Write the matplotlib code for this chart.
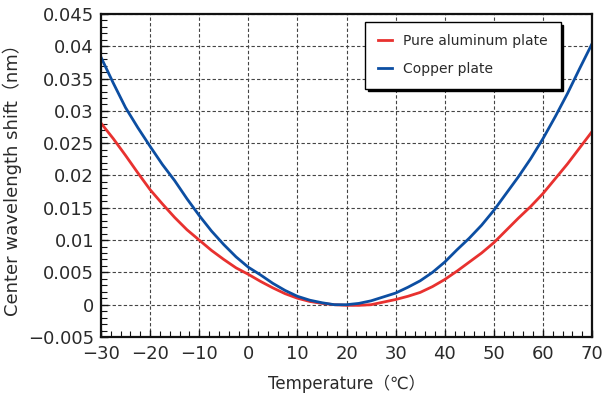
import numpy as np
import matplotlib
matplotlib.use('Agg')
import matplotlib.pyplot as plt
from matplotlib.ticker import MultipleLocator

plt.rcParams['font.family'] = ['DejaVu Sans', 'Noto Sans CJK JP']

# data (temperature in degC, shift in nm)
temp = [-30, -27.5, -25, -22.5, -20, -17.5, -15, -12.5, -10, -7.5, -5, -2.5,
        0, 2.5, 5, 7.5, 10, 12.5, 15, 17.5, 20, 22.5, 25, 27.5, 30, 32.5,
        35, 37.5, 40, 42.5, 45, 47.5, 50, 52.5, 55, 57.5, 60, 62.5, 65,
        67.5, 70]
aluminum = [0.0281, 0.0257, 0.0231, 0.0204, 0.0178, 0.0156, 0.0135, 0.0116,
            0.0100, 0.0084, 0.0070, 0.0057, 0.0047, 0.0036, 0.0026, 0.0017,
            0.0010, 0.0005, 0.0002, 0.0000, -0.0001, -0.0001, 0.0000, 0.0004,
            0.0008, 0.0013, 0.0019, 0.0028, 0.0039, 0.0052, 0.0066, 0.0080,
            0.0096, 0.0115, 0.0134, 0.0152, 0.0172, 0.0195, 0.0218, 0.0243,
            0.0268]
copper = [0.0383, 0.0343, 0.0305, 0.0274, 0.0245, 0.0217, 0.0192, 0.0164,
          0.0138, 0.0114, 0.0093, 0.0074, 0.0058, 0.0046, 0.0033, 0.0022,
          0.0013, 0.0007, 0.0003, 0.0000, 0.0000, 0.0002, 0.0006, 0.0012,
          0.0018, 0.0027, 0.0037, 0.0050, 0.0066, 0.0085, 0.0103, 0.0123,
          0.0146, 0.0172, 0.0198, 0.0226, 0.0257, 0.0291, 0.0327, 0.0366,
          0.0404]
labels = ['Pure aluminum plate', 'Copper plate']
ytick_vals = [-0.005, 0, 0.005, 0.01, 0.015, 0.02, 0.025, 0.03, 0.035, 0.04,
              0.045]
ytick_labels = ['−0.005', '0', '0.005', '0.01', '0.015', '0.02', '0.025',
                '0.03', '0.035', '0.04', '0.045']

fig = plt.figure(figsize=(6.06, 3.94), dpi=100)
ax = fig.add_axes([0.1667, 0.1447, 0.8103, 0.8198])

ax.plot(temp, aluminum, '-', color='#e8312f', linewidth=2.0, label=labels[0])
ax.plot(temp, copper, '-', color='#0c4ea2', linewidth=2.0, label=labels[1])

ax.set_xlim(-30, 70)
ax.set_ylim(-0.005, 0.045)
ax.xaxis.set_major_locator(MultipleLocator(10))
ax.xaxis.set_minor_locator(MultipleLocator(2))
ax.yaxis.set_minor_locator(MultipleLocator(0.001))
ax.set_yticks(ytick_vals)
ax.set_yticklabels(ytick_labels)

ax.tick_params(which='both', direction='in', top=False, right=False,
               labelsize=13, labelcolor='#2a2a2a', color='#111111')
ax.tick_params(which='major', length=5, width=1)
ax.tick_params(which='minor', length=4, width=0.8)
ax.tick_params(axis='x', pad=6)
ax.tick_params(axis='y', pad=5)
for s in ax.spines.values():
    s.set_linewidth(1.6)
    s.set_color('#111111')

ax.grid(True, which='major', linestyle=(0, (3, 2)), color='#444444',
        linewidth=0.8)

ax.set_xlabel('Temperature（℃）', fontsize=12, color='#2a2a2a', labelpad=8)
ax.set_ylabel('Center wavelength shift（nm）', fontsize=13, color='#2a2a2a',
              labelpad=4)

leg = ax.legend(loc='upper left', bbox_to_anchor=(0.538, 0.976),
                fontsize=10, frameon=True, fancybox=False,
                shadow={'color': 'black', 'alpha': 1.0},
                handlelength=1.0, handletextpad=0.85, borderpad=0.9,
                labelspacing=1.0, borderaxespad=0)
leg.get_frame().set_edgecolor('black')
leg.get_frame().set_linewidth(1.0)
for t in leg.get_texts():
    t.set_color('#2a2a2a')

fig.savefig('out.png', dpi=100)
